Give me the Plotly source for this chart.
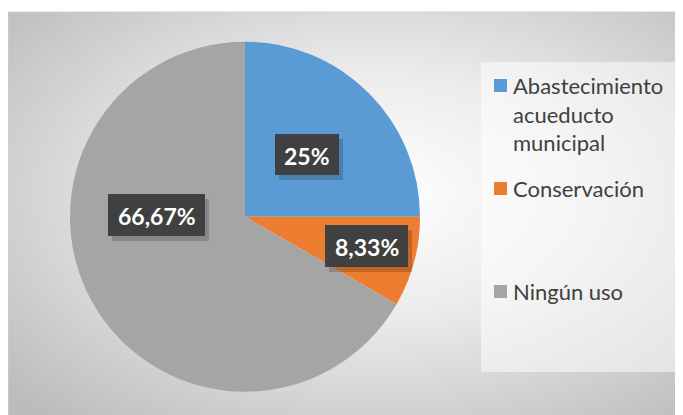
import base64
import plotly.graph_objects as go

# ---- data ----
categories = ["Abastecimiento acueducto municipal", "Conservación", "Ningún uso"]
legend_labels = ["Abastecimiento<br>acueducto<br>municipal", "Conservación", "Ningún uso"]
values = [3, 1, 8]
colors = ["#5B9BD5", "#ED7D31", "#A5A5A5"]

# page offset (body margin) and figure size
OX, OY = 8, 8
WIN_W, WIN_H = 683, 415
W, H = WIN_W - OX, WIN_H - OY

def px_x(x):
    return (x - OX) / W

def px_y(y):
    return 1 - (y - OY) / H

def fmt_pct(v, total):
    p = round(100 * v / total, 2)
    s = ("%.2f" % p).rstrip("0").rstrip(".")
    return s.replace(".", ",") + "%"

total = sum(values)
texts = [fmt_pct(v, total) for v in values]

# ---- layout constants (window pixels) ----
pie_cx, pie_cy, pie_r = 245, 216.7, 175
label_center = [(307, 154.5), (366.5, 246), (156.5, 215)]
label_size = [(64, 41), (83, 42), (97, 42)]
frame = (8, 12)
legend_box = (481, 62, 677, 372)
legend_sq_y = [85.5, 188.5, 291.5]
legend_text_y = [114, 188, 291]

fig = go.Figure()
fig.add_trace(go.Pie(
    labels=categories,
    values=values,
    marker=dict(colors=colors, line=dict(width=0)),
    sort=False,
    direction="clockwise",
    rotation=0,
    textinfo="none",
    hoverinfo="label+percent",
    showlegend=False,
    domain=dict(x=[px_x(pie_cx - pie_r), px_x(pie_cx + pie_r)],
                y=[px_y(pie_cy + pie_r), px_y(pie_cy - pie_r)]),
))

# background gradient via SVG image
fw, fh = WIN_W - frame[0] + 10, WIN_H - frame[1] + 10
svg = f'''<svg xmlns="http://www.w3.org/2000/svg" width="{fw}" height="{fh}" viewBox="0 0 {fw} {fh}" preserveAspectRatio="none">
<defs><radialGradient id="g" cx="54%" cy="44%" r="72%">
<stop offset="0%" stop-color="#ffffff"/>
<stop offset="40%" stop-color="#ececec"/>
<stop offset="100%" stop-color="#bcbcbc"/>
</radialGradient></defs>
<rect x="0" y="0" width="{fw}" height="{fh}" fill="url(#g)"/>
</svg>'''
src = "data:image/svg+xml;base64," + base64.b64encode(svg.encode()).decode()

images = [dict(source=src, xref="paper", yref="paper", x=px_x(frame[0]), y=px_y(frame[1]),
               sizex=fw / W, sizey=fh / H, sizing="stretch",
               xanchor="left", yanchor="top", layer="below")]

shapes = [
    dict(type="line", xref="paper", yref="paper", x0=px_x(frame[0]), x1=1.0,
         y0=px_y(frame[1]), y1=px_y(frame[1]), line=dict(color="#d0d0d0", width=1), layer="below"),
    dict(type="line", xref="paper", yref="paper", x0=px_x(frame[0]), x1=px_x(frame[0]),
         y0=0, y1=px_y(frame[1]), line=dict(color="#d0d0d0", width=1), layer="below"),
    dict(type="rect", xref="paper", yref="paper",
         x0=px_x(legend_box[0]), x1=px_x(legend_box[2]),
         y0=px_y(legend_box[3]), y1=px_y(legend_box[1]),
         line=dict(width=0), fillcolor="rgba(255,255,255,0.5)", layer="below"),
]
for c, yc in zip(colors, legend_sq_y):
    shapes.append(dict(type="rect", xref="paper", yref="paper",
                       x0=px_x(494), x1=px_x(507), y0=px_y(yc + 6.5), y1=px_y(yc - 6.5),
                       line=dict(width=0), fillcolor=c))

# label boxes with soft shadow
for (cx, cy), (bw, bh) in zip(label_center, label_size):
    shapes.append(dict(type="rect", xref="paper", yref="paper", layer="above",
                       x0=px_x(cx - bw / 2 + 4), x1=px_x(cx + bw / 2 + 4),
                       y0=px_y(cy + bh / 2 + 5), y1=px_y(cy - bh / 2 + 5),
                       line=dict(width=0), fillcolor="rgba(0,0,0,0.18)"))
    shapes.append(dict(type="rect", xref="paper", yref="paper", layer="above",
                       x0=px_x(cx - bw / 2), x1=px_x(cx + bw / 2),
                       y0=px_y(cy + bh / 2), y1=px_y(cy - bh / 2),
                       line=dict(width=0), fillcolor="#404040"))

annotations = []
for t, (x, y) in zip(texts, label_center):
    annotations.append(dict(x=px_x(x), y=px_y(y + 1), xref="paper", yref="paper",
                            text="<b>" + t + "</b>", showarrow=False,
                            xanchor="center", yanchor="middle",
                            font=dict(family="Lato", size=23, color="#ffffff")))

for lab, yt in zip(legend_labels, legend_text_y):
    annotations.append(dict(x=px_x(511), y=px_y(yt), xref="paper", yref="paper",
                            text=lab, showarrow=False, align="left",
                            xanchor="left", yanchor="middle",
                            font=dict(family="Lato", size=22, color="#404040")))

fig.update_layout(
    width=W, height=H,
    margin=dict(l=0, r=0, t=0, b=0),
    paper_bgcolor="#ffffff",
    plot_bgcolor="#ffffff",
    images=images,
    shapes=shapes,
    annotations=annotations,
    showlegend=False,
)

fig.write_html("out.html")
